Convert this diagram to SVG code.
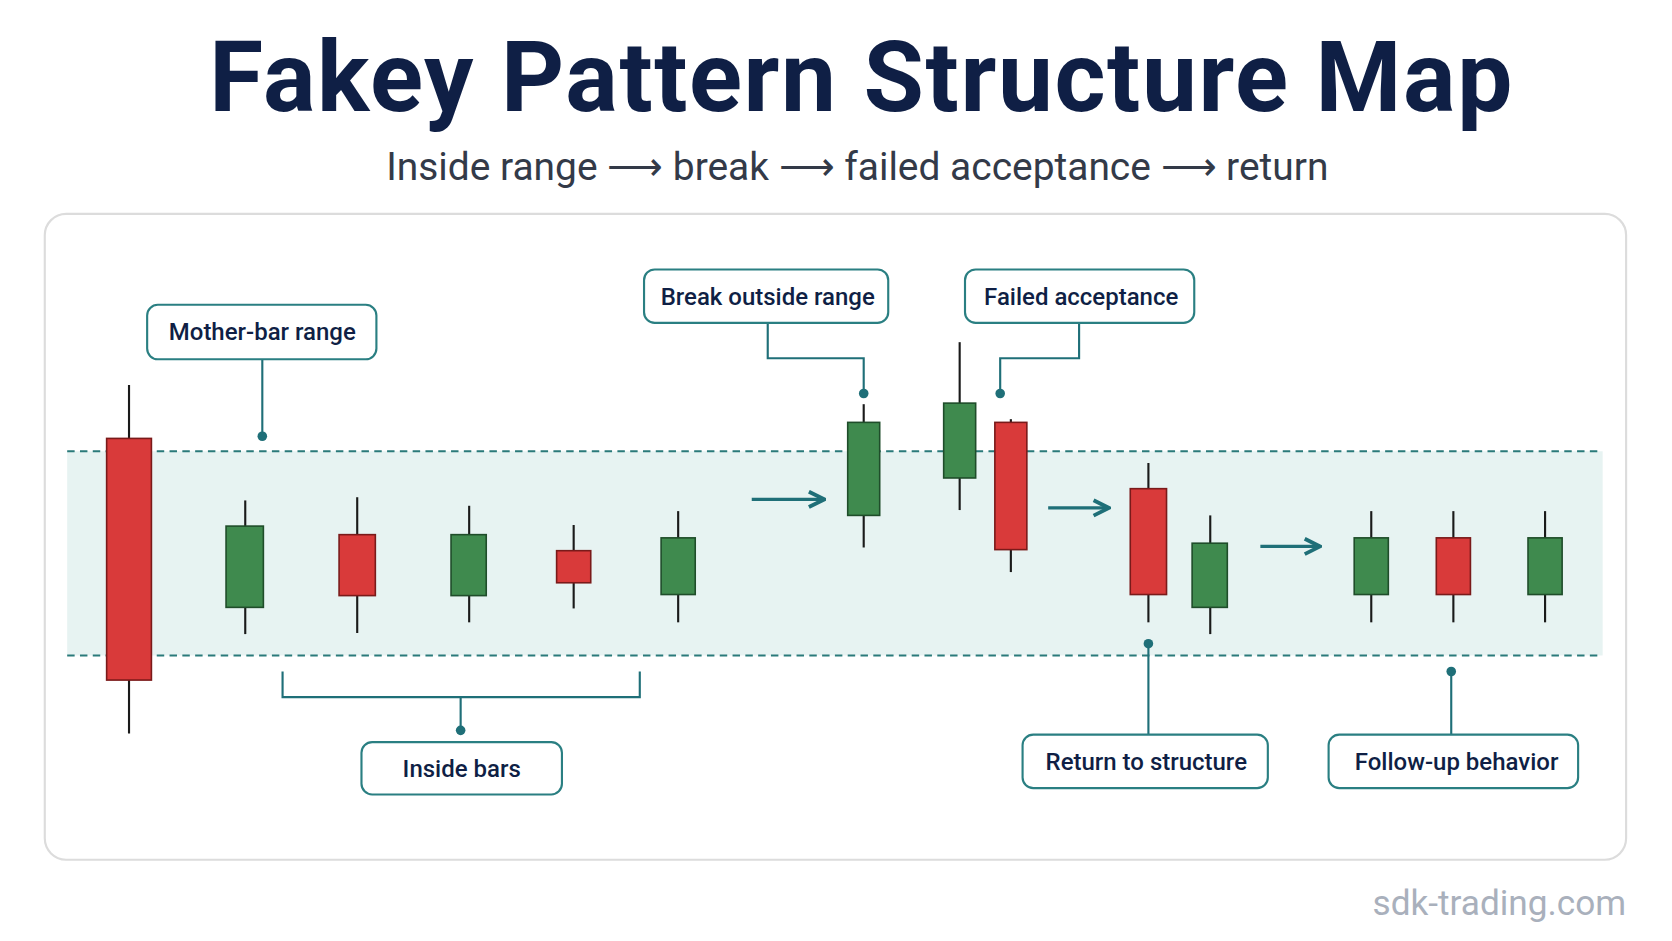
<svg xmlns="http://www.w3.org/2000/svg" width="1672" height="941" viewBox="0 0 1672 941">
<defs>
<style>
.t{font-family:Roboto,"Liberation Sans",sans-serif;fill:#0f1f45}
.lb{font-size:22.5px;text-anchor:middle;font-weight:500}
.box{fill:#fff;stroke:#2a7f82;stroke-width:2}
.ln{fill:none;stroke:#1f6f78;stroke-width:2}
.dot{fill:#1f6f78}
.w{stroke:#1a1a1a;stroke-width:2}
.r{fill:#d93a3a;stroke:#7a1a1a;stroke-width:1.5}
.g{fill:#3f8a4e;stroke:#1f4d2a;stroke-width:1.5}
.ar{stroke:#1f6f78;stroke-width:3;fill:none}
.dash{stroke:#2a7a7a;stroke-width:2;stroke-dasharray:7 5}
</style>
<marker id="ah" viewBox="0 0 10 10" refX="9" refY="5" markerWidth="6" markerHeight="6" orient="auto"><path d="M1 1 L9 5 L1 9" fill="none" stroke="#1f6f78" stroke-width="2"/></marker>
</defs>
<rect width="1672" height="941" fill="#fff"/>
<g transform="scale(1.0663,1.0693)">
<text class="t" x="808" y="104" font-size="92" font-weight="bold" letter-spacing="1.5" text-anchor="middle">Fakey Pattern Structure Map</text>
<text x="804" y="168" font-size="36.5" text-anchor="middle" font-family="Roboto,'Liberation Sans',sans-serif" fill="#333a48">Inside range ⟶ break ⟶ failed acceptance ⟶ return</text>
<rect x="42" y="200" width="1483" height="604" rx="20" fill="#fff" stroke="#dcdcdc" stroke-width="2"/>
<rect x="63" y="422" width="1440" height="191" fill="#e7f3f2"/>
<line class="dash" x1="63" y1="422" x2="1503" y2="422"/>
<line class="dash" x1="63" y1="613" x2="1503" y2="613"/>
<g id="candles">
<line class="w" x1="121" y1="360" x2="121" y2="686"/><rect class="r" x="100" y="410" width="42" height="226"/>
<line class="w" x1="230" y1="468" x2="230" y2="593"/><rect class="g" x="212" y="492" width="35" height="76"/>
<line class="w" x1="335" y1="465" x2="335" y2="592"/><rect class="r" x="318" y="500" width="34" height="57"/>
<line class="w" x1="440" y1="473" x2="440" y2="582"/><rect class="g" x="423" y="500" width="33" height="57"/>
<line class="w" x1="538" y1="491" x2="538" y2="569"/><rect class="r" x="522" y="515" width="32" height="30"/>
<line class="w" x1="636" y1="478" x2="636" y2="582"/><rect class="g" x="620" y="503" width="32" height="53"/>
<line class="w" x1="810" y1="378" x2="810" y2="512"/><rect class="g" x="795" y="395" width="30" height="87"/>
<line class="w" x1="900" y1="320" x2="900" y2="477"/><rect class="g" x="885" y="377" width="30" height="70"/>
<line class="w" x1="948" y1="392" x2="948" y2="535"/><rect class="r" x="933" y="395" width="30" height="119"/>
<line class="w" x1="1077" y1="433" x2="1077" y2="582"/><rect class="r" x="1060" y="457" width="34" height="99"/>
<line class="w" x1="1135" y1="482" x2="1135" y2="593"/><rect class="g" x="1118" y="508" width="33" height="60"/>
<line class="w" x1="1286" y1="478" x2="1286" y2="582"/><rect class="g" x="1270" y="503" width="32" height="53"/>
<line class="w" x1="1363" y1="478" x2="1363" y2="582"/><rect class="r" x="1347" y="503" width="32" height="53"/>
<line class="w" x1="1449" y1="478" x2="1449" y2="582"/><rect class="g" x="1433" y="503" width="32" height="53"/>
</g>
<g id="connectors">
<line class="ar" x1="705" y1="467" x2="773" y2="467" marker-end="url(#ah)"/>
<line class="ar" x1="983" y1="475" x2="1040" y2="475" marker-end="url(#ah)"/>
<line class="ar" x1="1182" y1="511" x2="1238" y2="511" marker-end="url(#ah)"/>
<path class="ln" d="M246 336 V408"/><circle class="dot" cx="246" cy="408" r="4.5"/>
<path class="ln" d="M720 302 V335 H810 V368"/><circle class="dot" cx="810" cy="368" r="4.5"/>
<path class="ln" d="M1012 302 V335 H938 V368"/><circle class="dot" cx="938" cy="368" r="4.5"/>
<path class="ln" d="M265 628 V652 H600 V628 M432 652 V683"/><circle class="dot" cx="432" cy="683" r="4.5"/>
<path class="ln" d="M1077 602 V687"/><circle class="dot" cx="1077" cy="602" r="4.5"/>
<path class="ln" d="M1361 628 V687"/><circle class="dot" cx="1361" cy="628" r="4.5"/>
</g>
<g id="n1"><rect class="box" x="138" y="285" width="215" height="51" rx="10"/><text class="t lb" x="246" y="318">Mother-bar range</text></g>
<g id="n2"><rect class="box" x="604" y="252" width="229" height="50" rx="10"/><text class="t lb" x="720" y="285">Break outside range</text></g>
<g id="n3"><rect class="box" x="905" y="252" width="215" height="50" rx="10"/><text class="t lb" x="1014" y="285">Failed acceptance</text></g>
<g id="n4"><rect class="box" x="339" y="694" width="188" height="49" rx="10"/><text class="t lb" x="433" y="727">Inside bars</text></g>
<g id="n5"><rect class="box" x="959" y="687" width="230" height="50" rx="10"/><text class="t lb" x="1075" y="720">Return to structure</text></g>
<g id="n6"><rect class="box" x="1246" y="687" width="234" height="50" rx="10"/><text class="t lb" x="1366" y="720">Follow-up behavior</text></g>
<text x="1525" y="856" font-size="33" text-anchor="end" font-family="Roboto,'Liberation Sans',sans-serif" fill="#a9b0bc">sdk-trading.com</text>
</g>
</svg>
